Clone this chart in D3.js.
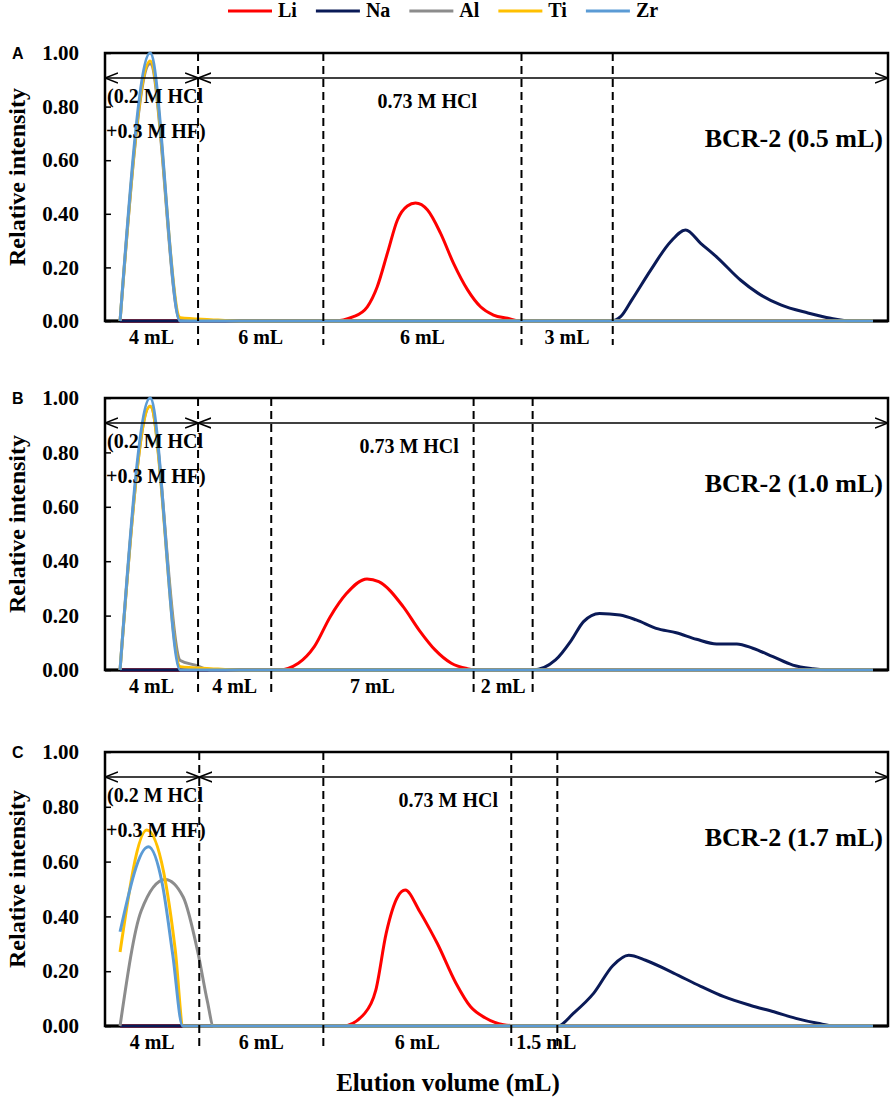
<!DOCTYPE html>
<html>
<head>
<meta charset="utf-8">
<script src="https://cdn.jsdelivr.net/npm/d3@7"></script>
<style>
  body { margin: 0; background: #fff; }
  svg { display: block; font-family: "Liberation Serif", "Times New Roman", serif; font-weight: bold; }
</style>
</head>
<body>
<svg id="chart"></svg>
<script>
const elements = ["Li", "Na", "Al", "Ti", "Zr"];
const colors = ["#ff0000", "#0a1a57", "#8c8c8c", "#ffc000", "#5b9bd5"];
const yTicks = [0, 0.2, 0.4, 0.6, 0.8, 1.0];
const panelLetters = ["A", "B", "C"];
const sampleLabels = ["BCR-2 (0.5 mL)", "BCR-2 (1.0 mL)", "BCR-2 (1.7 mL)"];

// cut positions (fraction number) and the eluted volume of each cut
const cutsA = [2.59, 6.75, 13.33, 16.36];
const cutsB = [2.59, 5.02, 11.74, 13.70];
const cutsC = [2.63, 6.75, 12.99, 14.52];
const volumesA = ["4 mL", "6 mL", "6 mL", "3 mL"];
const volumesB = ["4 mL", "4 mL", "7 mL", "2 mL"];
const volumesC = ["4 mL", "6 mL", "6 mL", "1.5 mL"];
const hclLabelAt = [10.2, 9.6, 10.9];

// [fraction number, relative intensity]
const liA = [[0,0],[7.08,0],[7.75,0.016],[8.21,0.053],[8.54,0.128],[8.88,0.254],[9.21,0.377],[9.54,0.429],[9.81,0.44],[10.21,0.414],[10.64,0.328],[11.07,0.216],[11.54,0.116],[11.97,0.053],[12.4,0.022],[12.87,0.01],[13.3,0],[25,0]];
const naA = [[0,0],[16.3,0],[16.62,0.016],[17.0,0.08],[17.62,0.19],[18.28,0.296],[18.78,0.34],[19.28,0.29],[19.85,0.235],[20.6,0.153],[21.18,0.104],[21.94,0.06],[22.84,0.03],[23.6,0.01],[24.3,0],[25,0]];
const alA = [[0,0],[1,0.96],[2,0],[25,0]];
const tiA = [[0,0],[1,0.97],[2,0.012],[3,0.005],[4,0],[25,0]];
const zrA = [[0,0],[1,1.0],[2,0],[25,0]];

const liB = [[0,0],[5.25,0],[5.92,0.025],[6.45,0.086],[6.98,0.196],[7.51,0.28],[8.2,0.335],[8.59,0.325],[9.4,0.233],[9.93,0.147],[10.46,0.074],[11.0,0.025],[11.53,0.005],[11.8,0],[25,0]];
const naB = [[0,0],[13.7,0],[14.46,0.037],[14.99,0.11],[15.39,0.178],[15.92,0.208],[16.6,0.202],[17.14,0.184],[17.8,0.153],[18.47,0.137],[19.14,0.113],[19.81,0.096],[20.48,0.096],[21.01,0.08],[21.68,0.049],[22.34,0.018],[23.0,0.005],[23.54,0],[25,0]];
const alB = [[0,0],[1,0.97],[2,0.035],[2.5,0.018],[3,0],[25,0]];
const tiB = [[0,0],[1,0.97],[2,0.012],[3,0.005],[4,0],[25,0]];
const zrB = [[0,0],[1,1.0],[2,0],[25,0]];

const liC = [[0,0],[7.4,0],[8.13,0.047],[8.49,0.13],[8.84,0.34],[9.21,0.47],[9.47,0.496],[9.94,0.42],[10.3,0.35],[10.54,0.30],[11.15,0.157],[11.64,0.07],[12.12,0.03],[12.73,0.005],[13.3,0],[25,0]];
const naC = [[0,0],[14.53,0],[15.06,0.047],[15.73,0.12],[16.36,0.22],[16.89,0.258],[17.45,0.24],[18.38,0.193],[19.28,0.145],[20.05,0.107],[20.94,0.075],[21.71,0.052],[22.44,0.028],[23.17,0.01],[23.77,0],[25,0]];
const alC = [[0,0],[0.7,0.42],[1.5,0.535],[2.1,0.47],[2.6,0.26],[2.9,0.09],[3.1,0],[25,0]];
const tiC = [[0,0.27],[0.89,0.715],[1.45,0.56],[1.83,0.28],[2.1,0],[25,0]];
const zrC = [[0,0.344],[0.94,0.654],[1.4,0.52],[1.75,0.26],[2.08,0],[25,0]];

const width = 893, height = 1101;
const plotLeft = 105, plotRight = 888;
const panelTop = [53, 398, 752];
const panelBottom = [321, 670, 1026];

const panels = [
  {series: [liA, naA, alA, tiA, zrA], cuts: cutsA, volumes: volumesA},
  {series: [liB, naB, alB, tiB, zrB], cuts: cutsB, volumes: volumesB},
  {series: [liC, naC, alC, tiC, zrC], cuts: cutsC, volumes: volumesC}
];

const svg = d3.select("#chart")
    .attr("width", width)
    .attr("height", height)
    .attr("viewBox", [0, 0, width, height]);

const x = d3.scaleLinear().domain([-0.5, 25.5]).range([plotLeft, plotRight]);
const color = d3.scaleOrdinal(elements, colors);

svg.append("defs").append("marker")
    .attr("id", "head")
    .attr("viewBox", "0 -6 13 12")
    .attr("refX", 13)
    .attr("refY", 0)
    .attr("markerUnits", "userSpaceOnUse")
    .attr("markerWidth", 13)
    .attr("markerHeight", 12)
    .attr("orient", "auto-start-reverse")
  .append("path")
    .attr("d", "M0,-5L13,0L0,5")
    .attr("fill", "none")
    .attr("stroke", "#000")
    .attr("stroke-width", 1.6);

panels.forEach((p, k) => {
  const top = panelTop[k], bottom = panelBottom[k];
  const y = d3.scaleLinear().domain([0, 1]).range([bottom, top]);
  const g = svg.append("g");

  // frame and x axis line first, the curves sit on top of them
  g.append("rect")
      .attr("x", plotLeft).attr("y", top)
      .attr("width", plotRight - plotLeft).attr("height", bottom - top)
      .attr("fill", "none").attr("stroke", "#000").attr("stroke-width", 2.5);
  g.append("line")
      .attr("x1", plotLeft).attr("x2", plotRight)
      .attr("y1", bottom).attr("y2", bottom)
      .attr("stroke", "#000").attr("stroke-width", 3);

  g.append("g")
      .attr("transform", `translate(${plotLeft},0)`)
      .call(d3.axisLeft(y).tickValues(yTicks).tickFormat(d3.format(".2f"))
          .tickSizeInner(-6).tickSizeOuter(0).tickPadding(26))
      .call(a => a.select(".domain").remove())
      .call(a => a.selectAll(".tick line").attr("stroke-width", 1.5))
      .attr("font-family", null)
      .attr("font-size", 21)
      .call(a => a.selectAll("text").attr("fill", "#000"));

  const line = d3.line()
      .curve(d3.curveMonotoneX)
      .x(d => x(d[0]))
      .y(d => y(d[1]));

  g.append("g")
      .attr("fill", "none")
      .attr("stroke-width", 3)
      .attr("stroke-linejoin", "round")
    .selectAll("path")
    .data(p.series)
    .join("path")
      .attr("stroke", (d, i) => color(elements[i]))
      .attr("d", line);

  // dashed cut lines
  g.selectAll(".cut")
    .data(p.cuts)
    .join("line")
      .attr("x1", d => x(d)).attr("x2", d => x(d))
      .attr("y1", top).attr("y2", bottom + 24)
      .attr("stroke", "#000").attr("stroke-width", 2)
      .attr("stroke-dasharray", "8,5");

  // volume of each cut, centred between its borders
  const bounds = [plotLeft, ...p.cuts.map(c => x(c))];
  g.selectAll(".vol")
    .data(p.volumes)
    .join("text")
      .attr("font-size", 20)
      .attr("y", bottom + 23)
      .text(d => d)
      .each(function(d, i) {
        const w = this.getComputedTextLength();
        const gap = bounds[i + 1] - bounds[i];
        if (w > gap) d3.select(this).attr("x", bounds[i] + 5).attr("text-anchor", "start");
        else d3.select(this).attr("x", (bounds[i] + bounds[i + 1]) / 2).attr("text-anchor", "middle");
      });

  // eluent arrows
  const ay = top + 25;
  [[plotLeft, x(p.cuts[0])], [x(p.cuts[0]), plotRight]].forEach(([a, b]) => {
    g.append("line")
        .attr("x1", a).attr("x2", b).attr("y1", ay).attr("y2", ay)
        .attr("stroke", "#000").attr("stroke-width", 1.6)
        .attr("marker-start", "url(#head)")
        .attr("marker-end", "url(#head)");
  });

  g.append("text").attr("font-size", 20).attr("x", 107).attr("y", top + 50).text("(0.2 M HCl");
  g.append("text").attr("font-size", 20).attr("x", 106).attr("y", top + 85).text("+0.3 M HF)");
  g.append("text").attr("font-size", 20).attr("text-anchor", "middle")
      .attr("x", x(hclLabelAt[k])).attr("y", top + 55).text("0.73 M HCl");

  g.append("text").attr("font-size", 26).attr("text-anchor", "end")
      .attr("x", 883).attr("y", top + 94).text(sampleLabels[k]);

  g.append("text")
      .attr("font-family", "'Liberation Sans', Arial, sans-serif")
      .attr("font-size", 16)
      .attr("x", 12).attr("y", top + 6)
      .text(panelLetters[k]);

  g.append("text")
      .attr("font-size", 24)
      .attr("text-anchor", "middle")
      .attr("transform", `translate(25,${(top + bottom) / 2 - 10}) rotate(-90)`)
      .text("Relative intensity");
});

svg.append("text")
    .attr("font-size", 25)
    .attr("text-anchor", "middle")
    .attr("x", 448).attr("y", 1091)
    .text("Elution volume (mL)");

// legend
let lx = 228;
elements.forEach(el => {
  svg.append("line")
      .attr("x1", lx).attr("x2", lx + 44).attr("y1", 11).attr("y2", 11)
      .attr("stroke", color(el)).attr("stroke-width", 3);
  const t = svg.append("text")
      .attr("font-size", 20)
      .attr("x", lx + 50).attr("y", 17)
      .text(el);
  lx += 50 + t.node().getComputedTextLength() + 19;
});
</script>
</body>
</html>
